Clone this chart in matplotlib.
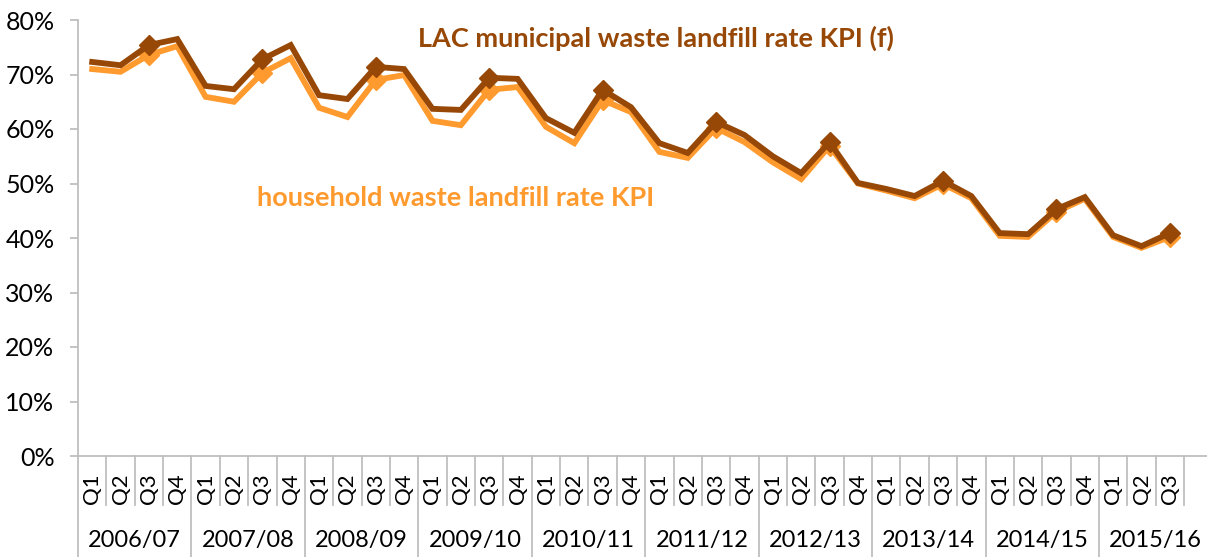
import matplotlib
matplotlib.use("Agg")
import matplotlib.pyplot as plt
import matplotlib.transforms as mtransforms
from matplotlib.ticker import PercentFormatter

years = ["2006/07", "2007/08", "2008/09", "2009/10", "2010/11",
         "2011/12", "2012/13", "2013/14", "2014/15", "2015/16"]
quarters = ["Q1", "Q2", "Q3", "Q4"]
n_last_year_quarters = 3

lac_municipal = [72.3, 71.7, 75.4, 76.5, 67.9, 67.3, 72.8, 75.4, 66.2, 65.5,
                 71.4, 71.0, 63.7, 63.5, 69.4, 69.2, 62.0, 59.3, 67.2, 64.0,
                 57.4, 55.6, 61.3, 58.9, 55.0, 51.9, 57.6, 50.1, 49.0, 47.7,
                 50.5, 47.7, 40.9, 40.7, 45.3, 47.5, 40.5, 38.5, 40.9]
household = [71.0, 70.5, 73.6, 75.2, 65.9, 65.0, 70.3, 73.0, 63.9, 62.2,
             69.0, 69.9, 61.5, 60.7, 67.2, 67.7, 60.4, 57.4, 65.3, 63.1,
             55.8, 54.7, 60.2, 57.6, 53.9, 50.8, 56.9, 50.0, 48.7, 47.3,
             49.9, 47.3, 40.4, 40.2, 44.8, 47.2, 40.2, 38.2, 40.2]

dark = "#974806"
orange = "#FF9A2E"
grey = "#BFBFBF"
font = ["Lato", "DejaVu Sans"]

plt.rcParams["font.family"] = font

q_labels = []
year_of = []
for yi, y in enumerate(years):
    nq = 4 if yi < len(years) - 1 else n_last_year_quarters
    for q in quarters[:nq]:
        q_labels.append(q)
        year_of.append(yi)

n = len(q_labels)
x = list(range(n))
q3_idx = [i for i, q in enumerate(q_labels) if q == "Q3"]

fig = plt.figure(figsize=(12.07, 5.57), dpi=100)
W, H = 1207, 557
left, right, top, bottom = 78, 1207, 20, 456
ax = fig.add_axes([left / W, 1 - bottom / H, (right - left) / W, (bottom - top) / H])

cat_w = 28.36
ax.set_xlim(-0.5, -0.5 + (right - left) / cat_w)
ax.set_ylim(0, 80)

ax.plot(x, household, color=orange, lw=4.2, solid_joinstyle="miter", zorder=3)
ax.plot([x[i] for i in q3_idx], [household[i] for i in q3_idx], ls="none",
        marker="D", ms=10.5, color=orange, zorder=3)
ax.plot(x, lac_municipal, color=dark, lw=4.2, solid_joinstyle="miter", zorder=4)
ax.plot([x[i] for i in q3_idx], [lac_municipal[i] for i in q3_idx], ls="none",
        marker="D", ms=10.5, color=dark, zorder=4)

for s in ["top", "right"]:
    ax.spines[s].set_visible(False)
for s in ["left", "bottom"]:
    ax.spines[s].set_color(grey)
    ax.spines[s].set_linewidth(1.3)

ax.set_yticks(range(0, 81, 10))
ax.yaxis.set_major_formatter(PercentFormatter(decimals=0))
ax.tick_params(axis="y", length=6, width=1.3, color=grey, labelsize=18, pad=11)
ax.set_xticks([])

trans = mtransforms.blended_transform_factory(ax.transData, fig.transFigure)
def fy(py):
    return 1 - py / H

# separators
for i in range(n + 1):
    b = i - 0.5
    is_year = i == 0 or (i < n and year_of[i] != year_of[i - 1])
    y_end = H if is_year else 505
    ax.plot([b, b], [fy(bottom), fy(y_end)], transform=trans, color=grey,
            lw=1.3, clip_on=False)

for i, q in enumerate(q_labels):
    ax.text(i, fy(489), q, transform=trans, rotation=90, ha="center",
            va="center", fontsize=16, color="black")

for yi, y in enumerate(years):
    start = [i for i in range(n) if year_of[i] == yi][0]
    cx = start + (len(quarters) - 1) / 2
    ax.text(cx, fy(541), y, transform=trans, ha="center", va="center",
            fontsize=17, color="black")

fig.text(418 / W, fy(38), "LAC municipal waste landfill rate KPI (f)",
         color=dark, fontsize=19.5, fontweight="bold", ha="left", va="center")
fig.text(257 / W, fy(198), "household waste landfill rate KPI",
         color=orange, fontsize=19.5, fontweight="bold", ha="left", va="center")

fig.savefig("out.png", dpi=100)
